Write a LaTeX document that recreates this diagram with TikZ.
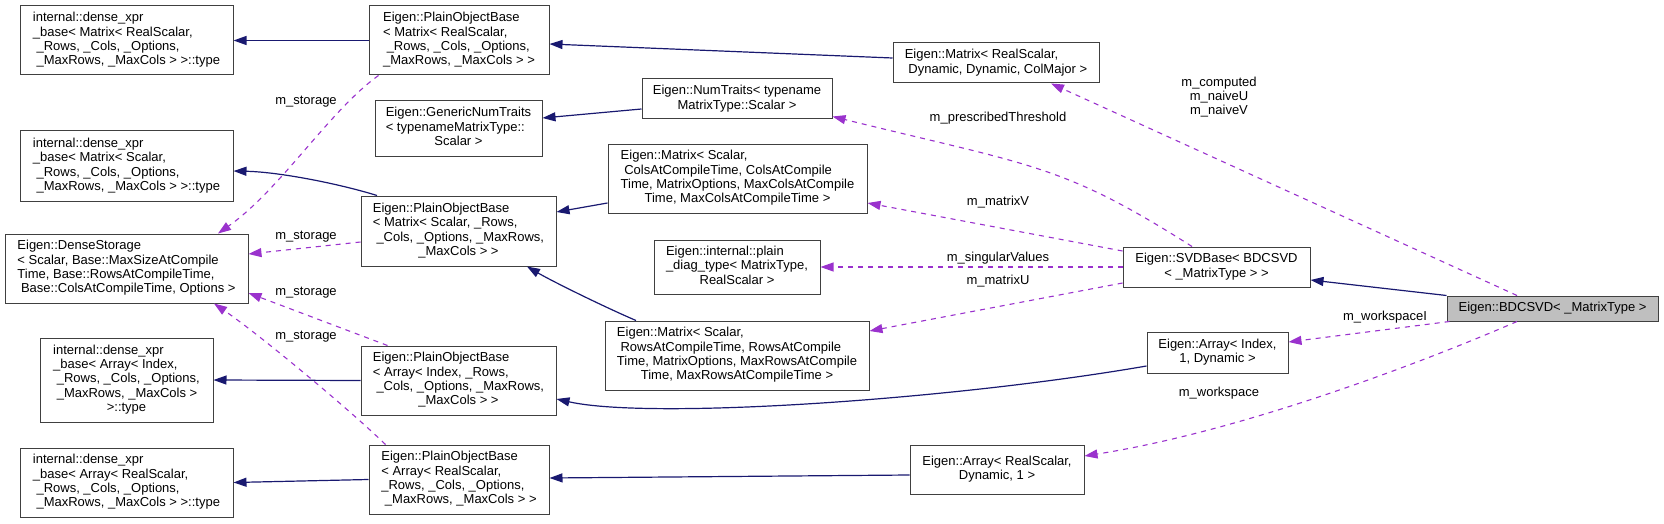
\documentclass[tikz,border=0pt]{standalone}
\usepackage{fontspec}
\setmainfont{Liberation Sans}
\usetikzlibrary{arrows.meta}
\definecolor{navyedge}{RGB}{25,25,112}
\definecolor{purpedge}{RGB}{154,50,205}
\definecolor{boxline}{RGB}{64,64,64}
\definecolor{selfill}{RGB}{191,191,191}
\newcommand{\lastln}[1]{\multicolumn{1}{@{}c@{}}{#1}}
\newcommand{\cls}[1]{\begin{tabular}{@{}l@{}}#1\end{tabular}}
\begin{document}
\begin{tikzpicture}[x=1pt,y=-1pt,
  font=\fontsize{13}{14.4}\selectfont,
  clsbox/.style={draw=boxline, line width=1pt, fill=white, inner sep=0pt, align=center},
  inh/.style={draw=navyedge, line width=1.2pt, -{Triangle[length=13pt,width=9pt]}},
  memb/.style={draw=purpedge, line width=1.1pt, dash pattern=on 5pt off 5pt, -{Triangle[length=13pt,width=9pt]}},
  lbl/.style={inner sep=0pt, align=center}]
\useasboundingbox (0,0) rectangle (1664,524);

% nodes
\node[clsbox, minimum width=213pt, minimum height=69pt] (A1) at (126.5,40.5)
  {\cls{internal::dense\_xpr\\ \_base< Matrix< RealScalar,\\ \ \_Rows, \_Cols, \_Options,\\ \lastln{\ \_MaxRows, \_MaxCols > >::type}}};
\node[clsbox, minimum width=180pt, minimum height=69pt] (P1) at (459,40.5)
  {\cls{Eigen::PlainObjectBase\\ < Matrix< RealScalar,\\ \ \_Rows, \_Cols, \_Options,\\ \lastln{\_MaxRows, \_MaxCols > >}}};
\node[clsbox, minimum width=167pt, minimum height=55pt] (G) at (458.5,128.5)
  {\cls{Eigen::GenericNumTraits\\ < typenameMatrixType::\\ \lastln{Scalar >}}};
\node[clsbox, minimum width=190pt, minimum height=40pt] (N) at (737,99)
  {\cls{Eigen::NumTraits< typename\\ \lastln{MatrixType::Scalar >}}};
\node[clsbox, minimum width=206pt, minimum height=40pt] (M1) at (996,63)
  {\cls{Eigen::Matrix< RealScalar,\\ \lastln{\ Dynamic, Dynamic, ColMajor >}}};
\node[clsbox, minimum width=213pt, minimum height=70pt] (A2) at (126.5,166)
  {\cls{internal::dense\_xpr\\ \_base< Matrix< Scalar,\\ \ \_Rows, \_Cols, \_Options,\\ \lastln{\ \_MaxRows, \_MaxCols > >::type}}};
\node[clsbox, minimum width=259pt, minimum height=69pt] (MV) at (737.5,178.5)
  {\cls{Eigen::Matrix< Scalar,\\ \ ColsAtCompileTime, ColsAtCompile\\ Time, MatrixOptions, MaxColsAtCompile\\ \lastln{Time, MaxColsAtCompileTime >}}};
\node[clsbox, minimum width=243pt, minimum height=69pt] (D) at (126.5,268.5)
  {\cls{Eigen::DenseStorage\\ < Scalar, Base::MaxSizeAtCompile\\ Time, Base::RowsAtCompileTime,\\ \lastln{\ Base::ColsAtCompileTime, Options >}}};
\node[clsbox, minimum width=195pt, minimum height=70pt] (P2) at (458.5,231)
  {\cls{Eigen::PlainObjectBase\\ < Matrix< Scalar, \_Rows,\\ \ \_Cols, \_Options, \_MaxRows,\\ \lastln{\_MaxCols > >}}};
\node[clsbox, minimum width=166pt, minimum height=54pt] (PD) at (737,267)
  {\cls{Eigen::internal::plain\\ \_diag\_type< MatrixType,\\ \lastln{RealScalar >}}};
\node[clsbox, minimum width=187pt, minimum height=40pt] (S) at (1216.5,267)
  {\cls{Eigen::SVDBase< BDCSVD\\ \lastln{< \_MatrixType > >}}};
\node[clsbox, fill=selfill, minimum width=211pt, minimum height=25pt] (B) at (1552.5,308.5)
  {Eigen::BDCSVD< \_MatrixType >};
\node[clsbox, minimum width=264pt, minimum height=69pt] (MU) at (737,355.5)
  {\cls{Eigen::Matrix< Scalar,\\ \ RowsAtCompileTime, RowsAtCompile\\ Time, MatrixOptions, MaxRowsAtCompile\\ \lastln{Time, MaxRowsAtCompileTime >}}};
\node[clsbox, minimum width=141pt, minimum height=41pt] (AI) at (1217.5,352.5)
  {\cls{Eigen::Array< Index,\\ \lastln{1, Dynamic >}}};
\node[clsbox, minimum width=173pt, minimum height=84pt] (A3) at (126.5,380)
  {\cls{internal::dense\_xpr\\ \_base< Array< Index,\\ \ \_Rows, \_Cols, \_Options,\\ \ \_MaxRows, \_MaxCols >\\ \lastln{>::type}}};
\node[clsbox, minimum width=195pt, minimum height=69pt] (P3) at (458.5,380.5)
  {\cls{Eigen::PlainObjectBase\\ < Array< Index, \_Rows,\\ \ \_Cols, \_Options, \_MaxRows,\\ \lastln{\_MaxCols > >}}};
\node[clsbox, minimum width=174pt, minimum height=49pt] (AR) at (997,469.5)
  {\cls{Eigen::Array< RealScalar,\\ \lastln{Dynamic, 1 >}}};
\node[clsbox, minimum width=213pt, minimum height=69pt] (A4) at (126.5,482.5)
  {\cls{internal::dense\_xpr\\ \_base< Array< RealScalar,\\ \ \_Rows, \_Cols, \_Options,\\ \lastln{\ \_MaxRows, \_MaxCols > >::type}}};
\node[clsbox, minimum width=180pt, minimum height=69pt] (P4) at (459,479.5)
  {\cls{Eigen::PlainObjectBase\\ < Array< RealScalar,\\ \_Rows, \_Cols, \_Options,\\ \lastln{\ \_MaxRows, \_MaxCols > >}}};

% inheritance
\draw[inh] (P1.west) -- (A1.east);
\draw[inh] ([yshift=5pt]M1.west) -- ([yshift=-3.5pt]P1.east);
\draw[inh] ([yshift=-10pt]N.west) -- ([yshift=10.5pt]G.east);
\draw[inh] ([xshift=-81.5pt]P2.north) .. controls (340,184) and (280,172) .. ([yshift=-5pt]A2.east);
\draw[inh] ([yshift=-24.5pt]MV.west) -- ([yshift=19pt]P2.east);
\draw[inh] ([xshift=-101pt]MU.north) .. controls (600,305) and (550,280) .. ([xshift=68.5pt]P2.south);
\draw[inh] (P3.west) -- (A3.east);
\draw[inh] ([yshift=-13.5pt]AI.west) .. controls (950,400) and (650,420) .. ([yshift=-18.5pt]P3.east);
\draw[inh] (P4.west) -- (A4.east);
\draw[inh] ([yshift=-5.5pt]AR.west) -- ([yshift=1.5pt]P4.east);
\draw[inh] (B.north west) -- ([yshift=-13pt]S.east);

% members
\draw[memb] ([xshift=10pt]P1.south west) .. controls (330,110) and (280,190) .. ([xshift=91.5pt]D.north);
\draw[memb] ([yshift=-11pt]P2.west) -- ([yshift=14.5pt]D.east);
\draw[memb] ([xshift=27pt]P3.north west) -- ([yshift=-24.5pt]D.east);
\draw[memb] ([xshift=17pt]P4.north west) .. controls (350,410) and (260,335) .. ([xshift=87.5pt]D.south);
\draw[memb] ([xshift=-35.5pt]B.north) -- ([xshift=55pt]M1.south);
\draw[memb] ([xshift=-24.5pt]S.north) .. controls (1062,164) and (1033,166) .. ([yshift=3pt]N.south east);
\draw[memb] ([yshift=16pt]S.west) -- ([yshift=-24.5pt]MV.east);
\draw[memb] (S.west) -- (PD.east);
\draw[memb] ([yshift=-16pt]S.west) -- ([yshift=24.5pt]MU.east);
\draw[memb] ([xshift=3pt]B.south west) -- ([yshift=10.5pt]AI.east);
\draw[memb] ([xshift=-35.5pt]B.south) .. controls (1440,355) and (1250,430) .. ([yshift=13.5pt]AR.east);

% labels
\node[lbl] (l1) at (1219,97) {m\_computed\\m\_naiveU\\m\_naiveV};
\node[lbl] (l2) at (998,118) {m\_prescribedThreshold};
\node[lbl] (l3) at (998,202) {m\_matrixV};
\node[lbl] (l4) at (998,258) {m\_singularValues};
\node[lbl] (l5) at (998,281) {m\_matrixU};
\node[lbl] (l6) at (1385,317) {m\_workspaceI};
\node[lbl] (l7) at (1219,393) {m\_workspace};
\node[lbl] (l8) at (306,102) {m\_storage};
\node[lbl] (l9) at (306,237) {m\_storage};
\node[lbl] (l10) at (306,293) {m\_storage};
\node[lbl] (l11) at (306,337) {m\_storage};
\end{tikzpicture}
\end{document}
